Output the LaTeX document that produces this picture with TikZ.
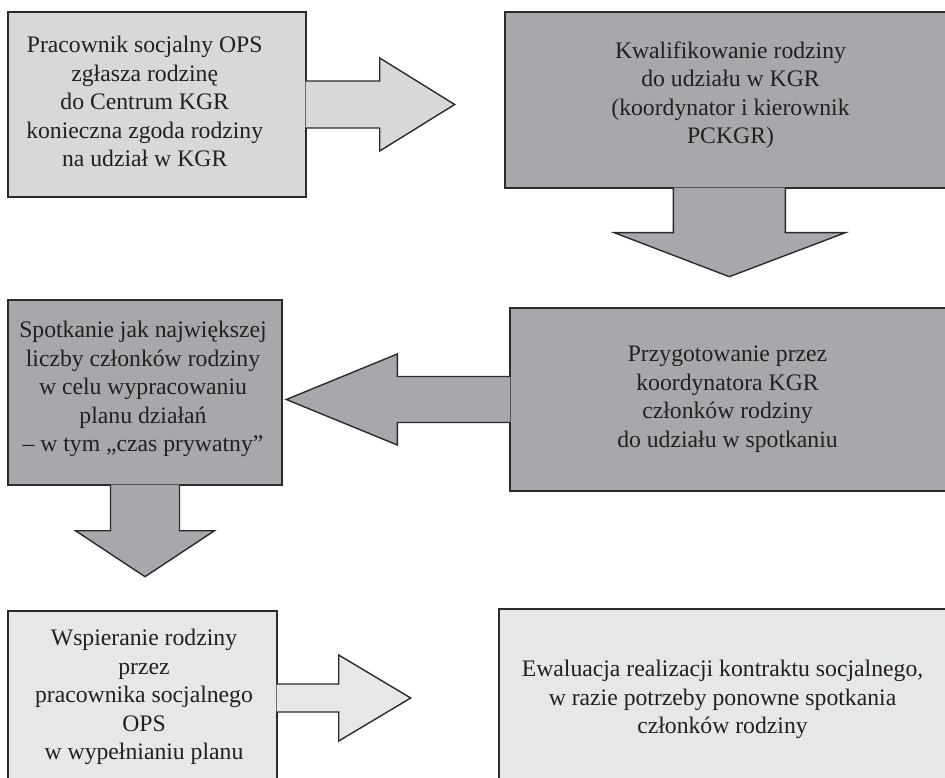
\documentclass[tikz,border=0pt]{standalone}
\usepackage{fontspec}
\setmainfont{Liberation Serif}
\usetikzlibrary{calc}
\definecolor{boxlight}{HTML}{D7D8DA}
\definecolor{boxpale}{HTML}{E6E7E8}
\definecolor{boxdark}{HTML}{A7A8AC}
\definecolor{boxline}{HTML}{2B2B2B}
\definecolor{boxtext}{HTML}{231F20}

\begin{document}
\begin{tikzpicture}[x=1pt, y=-1pt,
  stepbox/.style={draw=boxline, line width=1.4pt, inner sep=0pt},
  lightbox/.style={stepbox, fill=boxlight},
  palebox/.style={stepbox, fill=boxpale},
  darkbox/.style={stepbox, fill=boxdark},
  steptext/.style={
    text=boxtext, align=center, inner sep=0pt,
    font=\fontsize{23.7}{28.5}\selectfont
  },
  blockarrow/.style={draw=boxline, line width=1.4pt, line join=miter}
]
\useasboundingbox (0,0) rectangle (945,778);
\clip (0,0) rectangle (945,778);

% boxes
\node[lightbox, minimum width=298pt, minimum height=185pt] (zglos) at (157,104.5) {};
\node[darkbox, minimum width=460pt, minimum height=176pt] (kwal) at (735,100) {};
\node[darkbox, minimum width=455pt, minimum height=183pt] (przyg) at (737.5,399.5) {};
\node[darkbox, minimum width=274pt, minimum height=185pt] (spot) at (145,392.5) {};
\node[palebox, minimum width=269pt, minimum height=174pt] (wsp) at (142.5,698) {};
\node[palebox, minimum width=466pt, minimum height=176pt] (ewal) at (732,697) {};

% texts
\node[steptext] (zglos-t) at (144.7,101.8)
  {Pracownik socjalny OPS\\ zgłasza rodzinę\\ do Centrum KGR\\ konieczna zgoda rodziny\\ na udział w KGR};
\node[steptext] (kwal-t) at (730.5,95)
  {Kwalifikowanie rodziny\\ do udziału w KGR\\ (koordynator i kierownik\\ PCKGR)};
\node[steptext] (przyg-t) at (727.5,399)
  {Przygotowanie przez\\ koordynatora KGR\\ członków rodziny\\ do udziału w spotkaniu};
\node[steptext] (spot-t) at (143,389)
  {Spotkanie jak największej\\ liczby członków rodziny\\ w celu wypracowaniu\\ planu działań\\ – w tym „czas prywatny”};
\node[steptext] (wsp-t) at (144,697)
  {Wspieranie rodziny\\ przez\\ pracownika socjalnego\\ OPS\\ w wypełnianiu planu};
\node[steptext] (ewal-t) at (722.5,699.5)
  {Ewaluacja realizacji kontraktu socjalnego,\\ w razie potrzeby ponowne spotkania\\ członków rodziny};

% block arrows, open at the box side
\path[blockarrow, fill=boxlight] ($(zglos.east)+(-1,-23.5)$) -- ++(74,0) -- ++(0,-23)
  -- ($(zglos.east)+(148,0)$) -- ($(zglos.east)+(73,46.5)$) -- ++(0,-23) -- ($(zglos.east)+(-1,23.5)$);
\path[blockarrow, fill=boxdark] ($(kwal.south west)+(169,-1)$) -- ++(0,45) -- ++(-59,0)
  -- ($(kwal.south west)+(225,88)$) -- ($(kwal.south west)+(341,44)$) -- ++(-60,0) -- ($(kwal.south west)+(281,-1)$);
\path[blockarrow, fill=boxdark] ($(przyg.west)+(1,-23)$) -- ++(-113,0) -- ++(0,-22.5)
  -- ($(przyg.west)+(-223,0)$) -- ($(przyg.west)+(-112,45.5)$) -- ++(0,-22.5) -- ($(przyg.west)+(1,23)$);
\path[blockarrow, fill=boxdark] ($(spot.south)+(-34.5,-1)$) -- ++(0,46) -- ++(-35,0)
  -- ($(spot.south)+(0,91)$) -- ($(spot.south)+(69.5,45)$) -- ++(-35,0) -- ($(spot.south)+(34.5,-1)$);
\path[blockarrow, fill=boxpale] ($(wsp.east)+(-1,-14)$) -- ++(62,0) -- ++(0,-29)
  -- ($(wsp.east)+(133,0)$) -- ($(wsp.east)+(61,43)$) -- ++(0,-29) -- ($(wsp.east)+(-1,14)$);
\end{tikzpicture}
\end{document}
